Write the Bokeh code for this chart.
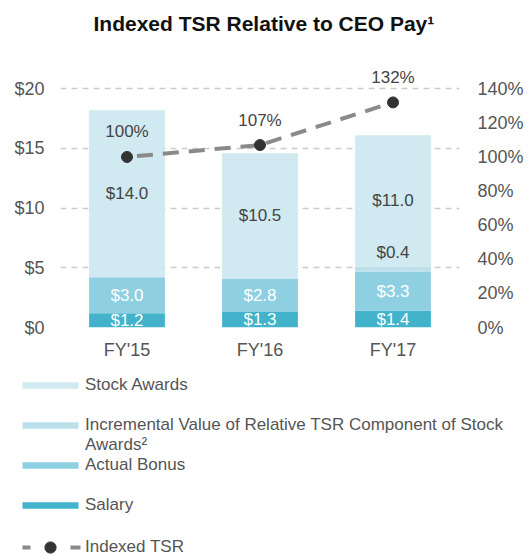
import numpy as np
from bokeh.plotting import figure
from bokeh.layouts import column
from bokeh.models import (Range1d, LinearAxis, FixedTicker, PrintfTickFormatter,
                          Legend, LegendItem, ColumnDataSource, Title)
from bokeh.core.properties import value
from bokeh.embed import file_html
from bokeh.resources import INLINE

# ---- data ----
years = ["FY'15", "FY'16", "FY'17"]
salary = [1.2, 1.3, 1.4]
bonus = [3.0, 2.8, 3.3]
incremental = [0.0, 0.0, 0.4]
stock = [14.0, 10.5, 11.0]
tsr = [100, 107, 132]
dollar_ticks = [0, 5, 10, 15, 20]
pct_ticks = [0, 20, 40, 60, 80, 100, 120, 140]

FONT = "Liberation Sans"
C_STOCK, C_INC, C_BONUS, C_SAL = "#d1e9f0", "#bde1eb", "#8ecfe1", "#42b3cb"
C_LINE, C_DOT = "#8a8a8a", "#333333"

Y_END = 22.2
PCT_PER_DOLLAR = 7.0
W = 528
H1 = 367

p = figure(width=W, height=H1, x_range=years, y_range=Range1d(0, Y_END),
           output_backend="svg", toolbar_location=None,
           min_border_left=60, min_border_right=69, min_border_top=62,
           min_border_bottom=40, outline_line_color=None)
p.frame_align = False
p.extra_y_ranges = {"pct": Range1d(0, Y_END * PCT_PER_DOLLAR)}

src = ColumnDataSource(dict(year=years, salary=salary, bonus=bonus,
                            incremental=incremental, stock=stock))
rs = p.vbar_stack(["salary", "bonus", "incremental", "stock"], x="year", width=0.57,
                  fill_color=[C_SAL, C_BONUS, C_INC, C_STOCK], line_color=None,
                  source=src)

sal = np.array(salary); bon = np.array(bonus); inc = np.array(incremental); stk = np.array(stock)

def fmt(vals):
    return ["$%.1f" % v for v in vals]

common = dict(text_font=value(FONT), text_font_size="17px", text_align="center",
              text_baseline="middle")
p.text(x=years, y=list(sal / 2), text=fmt(sal), text_color="white", **common)
p.text(x=years, y=list(sal + bon / 2), text=fmt(bon), text_color="white", **common)
p.text(x=years, y=list(sal + bon + inc + stk / 2), text=fmt(stk), text_color="#444444", **common)
mask = inc > 0
p.text(x=[y for y, m in zip(years, mask) if m], y=list((sal + bon + inc)[mask]),
       text=fmt(inc[mask]), text_color="#444444", y_offset=-14, **common)

p.line(years, tsr, y_range_name="pct", line_color=C_LINE, line_width=4,
       line_dash="16 10", line_dash_offset=16)
p.scatter(years, tsr, y_range_name="pct", size=11, color=C_DOT)
p.text(x=years, y=tsr, text=["%d%%" % v for v in tsr], y_range_name="pct",
       text_color="#444444", y_offset=-25, **common)

# axes
p.yaxis.ticker = FixedTicker(ticks=dollar_ticks)
p.yaxis.formatter = PrintfTickFormatter(format="$%d")
right = LinearAxis(y_range_name="pct", ticker=FixedTicker(ticks=pct_ticks),
                   formatter=PrintfTickFormatter(format="%d%%"))
p.add_layout(right, "right")
for ax in [p.yaxis[0], right, p.xaxis[0]]:
    ax.axis_line_color = None
    ax.major_tick_line_color = None
    ax.minor_tick_line_color = None
    ax.major_tick_out = 0
    ax.major_tick_in = 0
    ax.major_label_text_font = FONT
    ax.major_label_text_color = "#555555"
    ax.major_label_text_font_size = "18px"
p.yaxis[0].major_label_standoff = 16
right.major_label_standoff = 18
p.xaxis[0].major_label_standoff = 12

p.xgrid.visible = False
p.ygrid.ticker = FixedTicker(ticks=dollar_ticks)
p.ygrid.grid_line_color = "#cccccc"
p.ygrid.grid_line_dash = "6 5"
p.ygrid.grid_line_width = 1.5

# spacer between title and plot area, then the title itself
p.add_layout(Title(text=" ", text_font_size="10px", standoff=14), "above")
p.title.text = "Indexed TSR Relative to CEO Pay\u00b9"
p.title.text_font = FONT
p.title.text_font_size = "21px"
p.title.text_font_style = "bold"
p.title.text_color = "#111111"
p.title.align = "left"
p.title.offset = 33
p.title.standoff = 2

# ---- legend panel (proxy glyphs hold no visible data) ----
H2 = 558 - H1
q = figure(width=W, height=H2, x_range=Range1d(0, 1), y_range=Range1d(0, 1),
           output_backend="svg", toolbar_location=None, min_border=0,
           min_border_left=0, min_border_right=0, min_border_top=0, min_border_bottom=0,
           outline_line_color=None)
q.frame_align = False
q.axis.visible = False
q.grid.visible = False
nan = np.array([np.nan])
empty = dict(x=nan, top=nan, width=0.5, line_color=None)
g_stock = q.vbar(fill_color=C_STOCK, **empty)
g_inc = q.vbar(fill_color=C_INC, **empty)
g_bonus = q.vbar(fill_color=C_BONUS, **empty)
g_sal = q.vbar(fill_color=C_SAL, **empty)
g_line = q.line(x=nan, y=nan, line_color=C_LINE, line_width=4,
                line_dash="8 40 10 20", line_dash_offset=71)
g_dot = q.scatter(x=nan, y=nan, size=11, color=C_DOT)
g_blank = q.scatter(x=nan, y=nan, fill_alpha=0, line_alpha=0)

leg_style = dict(orientation="vertical", glyph_width=70, label_standoff=0, spacing=0,
                 padding=0, margin=0, border_line_color=None, background_fill_alpha=0,
                 label_text_font=FONT, label_text_font_size="17px",
                 label_text_color="#555555", label_height=20)

legend_bars = Legend(items=[
    LegendItem(label="Stock Awards", renderers=[g_stock]),
    LegendItem(label=" ", renderers=[g_blank]),
    LegendItem(label="Incremental Value of Relative TSR Component of Stock", renderers=[g_inc]),
    LegendItem(label="Awards\u00b2", renderers=[g_blank]),
    LegendItem(label="Actual Bonus", renderers=[g_bonus]),
    LegendItem(label=" ", renderers=[g_blank]),
    LegendItem(label="Salary", renderers=[g_sal]),
], location=(15, 43), glyph_height=8, **leg_style)
q.add_layout(legend_bars, "center")

legend_tsr = Legend(items=[
    LegendItem(label="Indexed TSR", renderers=[g_line, g_dot]),
], location=(15, -3), glyph_height=28, **leg_style)
q.add_layout(legend_tsr, "center")

open("out.html", "w").write(file_html(column(p, q, spacing=0), INLINE))
